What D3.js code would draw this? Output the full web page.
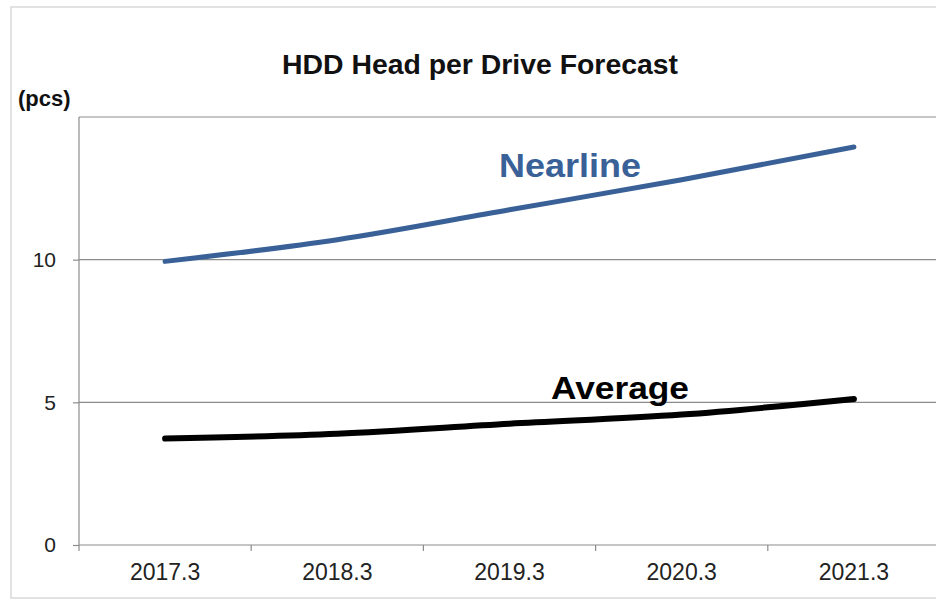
<!DOCTYPE html>
<html>
<head>
<meta charset="utf-8">
<script src="https://cdn.jsdelivr.net/npm/d3@7"></script>
<style>
  body { margin: 0; background: #fff; }
  svg text { font-family: 'Liberation Sans', Arial, sans-serif; }
</style>
</head>
<body>
<div id="chart"></div>
<script>
// Values (pcs per drive).
var periods = ['2017.3', '2018.3', '2019.3', '2020.3', '2021.3'];
var nearline = [9.94, 10.7, 11.75, 12.8, 13.95];
var average = [3.73, 3.9, 4.25, 4.57, 5.12];
var yTicks = [0, 5, 10, 15];

var width = 936, height = 601;
var plotLeft = 79, plotRight = 940, plotTop = 117, plotBottom = 545;

var svg = d3.select('#chart').append('svg')
    .attr('width', width)
    .attr('height', height);

// Light frame round the chart area.
svg.append('rect')
    .attr('x', 11).attr('y', 7)
    .attr('width', width).attr('height', 591)
    .attr('fill', 'none')
    .attr('stroke', '#d9d9d9')
    .attr('stroke-width', 1.5);

var x = d3.scaleBand().domain(periods).range([plotLeft, plotRight]);
var y = d3.scaleLinear().domain([0, 15]).range([plotBottom, plotTop]);

// Gridlines.
svg.selectAll('line.grid').data(yTicks.filter(function(d) { return d > 0; }))
  .enter().append('line')
    .attr('class', 'grid')
    .attr('x1', plotLeft).attr('x2', width)
    .attr('y1', function(d) { return y(d); })
    .attr('y2', function(d) { return y(d); })
    .attr('stroke', '#8c8c8c')
    .attr('stroke-width', 1.2);

// Y axis.
var yAxis = svg.append('g')
    .attr('transform', 'translate(' + plotLeft + ',0)')
    .call(d3.axisLeft(y).tickValues(yTicks.slice(0, 3)).tickSize(6).tickPadding(17));
yAxis.select('.domain').attr('stroke', '#8c8c8c').attr('stroke-width', 1.2)
    .attr('d', 'M0,' + plotBottom + 'V' + plotTop);
yAxis.selectAll('.tick line').attr('stroke', '#8c8c8c').attr('stroke-width', 1.2);
yAxis.selectAll('.tick text')
    .attr('font-size', 21)
    .attr('fill', '#222')
    .style('font-family', "'Liberation Sans', Arial, sans-serif");

// X axis with ticks between categories.
var xAxis = svg.append('g')
    .attr('transform', 'translate(0,' + plotBottom + ')')
    .call(d3.axisBottom(x).tickSize(0).tickPadding(19));
xAxis.select('.domain').attr('stroke', '#8c8c8c').attr('stroke-width', 1.2)
    .attr('d', 'M' + plotLeft + ',0H' + width);
xAxis.selectAll('.tick text')
    .attr('font-size', 23)
    .attr('fill', '#222')
    .style('font-family', "'Liberation Sans', Arial, sans-serif");
xAxis.selectAll('line.sep').data(periods)
  .enter().append('line')
    .attr('class', 'sep')
    .attr('x1', function(d) { return x(d); })
    .attr('x2', function(d) { return x(d); })
    .attr('y1', 0).attr('y2', 6)
    .attr('stroke', '#8c8c8c')
    .attr('stroke-width', 1.2);

// Lines.
var line = d3.line()
    .x(function(d, i) { return x(periods[i]) + x.bandwidth() / 2; })
    .y(function(d) { return y(d); })
    .curve(d3.curveMonotoneX);

svg.append('path')
    .datum(nearline)
    .attr('d', line)
    .attr('fill', 'none')
    .attr('stroke', '#3a6197')
    .attr('stroke-width', 5)
    .attr('stroke-linecap', 'round');

svg.append('path')
    .datum(average)
    .attr('d', line)
    .attr('fill', 'none')
    .attr('stroke', '#000')
    .attr('stroke-width', 6)
    .attr('stroke-linecap', 'round');

// Series labels.
svg.append('text')
    .attr('x', 499).attr('y', 177)
    .attr('font-size', 33).attr('font-weight', 'bold')
    .attr('fill', '#3a6197')
    .attr('textLength', 142).attr('lengthAdjust', 'spacingAndGlyphs')
    .text('Nearline');

svg.append('text')
    .attr('x', 551).attr('y', 399)
    .attr('font-size', 32).attr('font-weight', 'bold')
    .attr('fill', '#000')
    .attr('textLength', 138).attr('lengthAdjust', 'spacingAndGlyphs')
    .text('Average');

// Title and unit.
svg.append('text')
    .attr('x', 282).attr('y', 74)
    .attr('font-size', 27).attr('font-weight', 'bold')
    .attr('fill', '#111')
    .attr('textLength', 396).attr('lengthAdjust', 'spacingAndGlyphs')
    .text('HDD Head per Drive Forecast');

svg.append('text')
    .attr('x', 18).attr('y', 106)
    .attr('font-size', 22).attr('font-weight', 'bold')
    .attr('fill', '#111')
    .text('(pcs)');
</script>
</body>
</html>
